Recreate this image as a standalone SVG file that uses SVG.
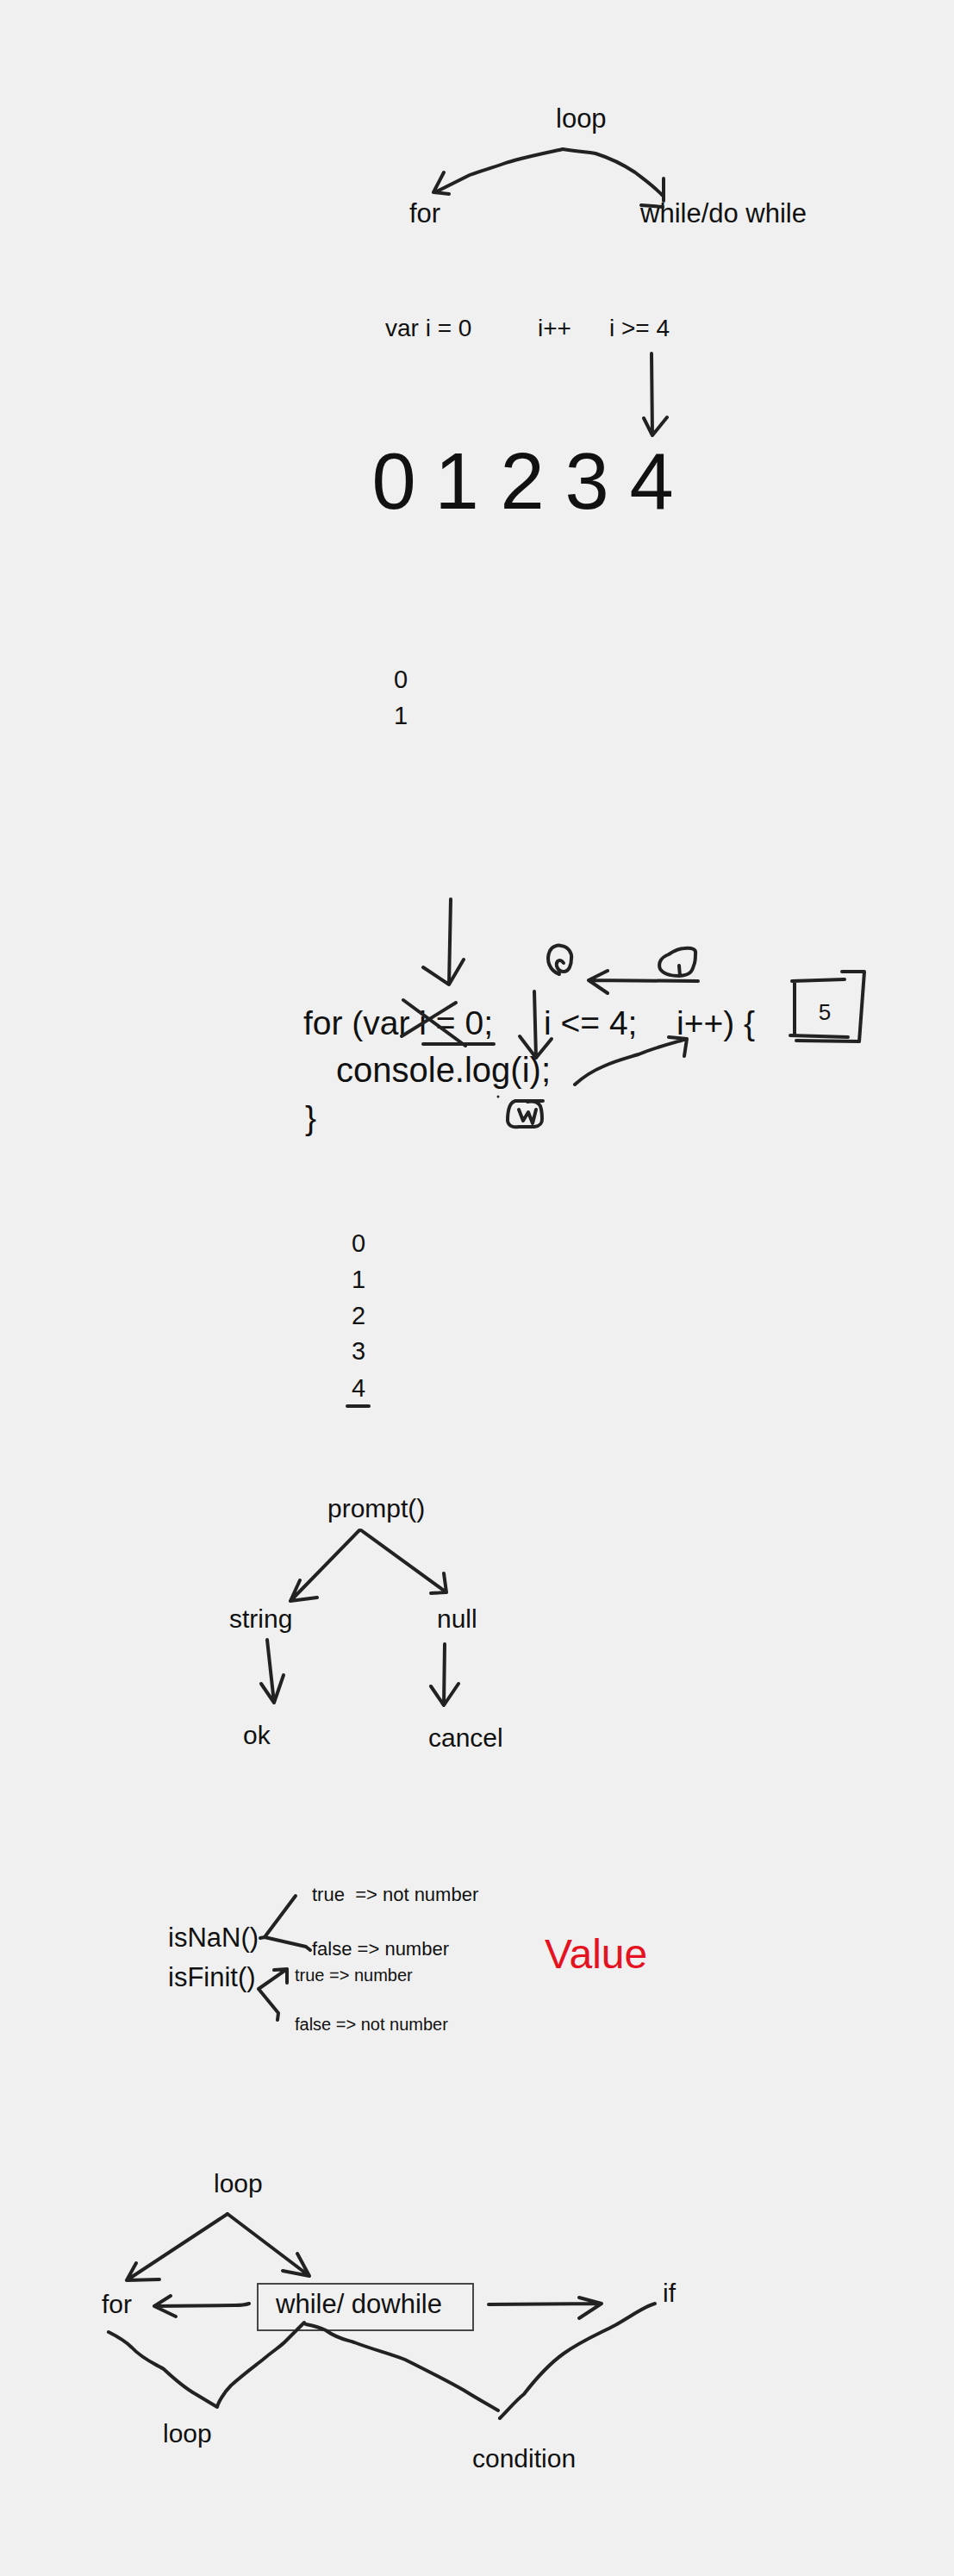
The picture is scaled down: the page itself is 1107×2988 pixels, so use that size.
<svg xmlns="http://www.w3.org/2000/svg" width="1107" height="2988" viewBox="0 0 1107 2988">
<style>
text{font-family:"Liberation Sans",Arial,sans-serif;fill:#111}
.pen{fill:none;stroke:#222;stroke-width:4;stroke-linecap:round;stroke-linejoin:round}
.thin{fill:none;stroke:#333;stroke-width:1.8}
</style>
<rect width="1107" height="2988" fill="#f0f0f0"/>

<g id="section1">
<g id="n-loop1"><text x="645" y="148" font-size="31">loop</text></g>
<g id="n-for1"><text x="475" y="258" font-size="31">for</text></g>
<g id="n-while1"><text x="743" y="258" font-size="31">while/do while</text></g>
</g>

<g id="section2">
<g id="n-vari"><text x="447" y="390" font-size="28">var i = 0</text></g>
<g id="n-ipp"><text x="624" y="390" font-size="28">i++</text></g>
<g id="n-ige"><text x="707" y="390" font-size="28">i &gt;= 4</text></g>
<g id="n-digits" font-size="92">
<text x="457" y="590" text-anchor="middle">0</text>
<text x="530" y="590" text-anchor="middle">1</text>
<text x="606" y="590" text-anchor="middle">2</text>
<text x="681" y="590" text-anchor="middle">3</text>
<text x="756" y="590" text-anchor="middle">4</text>
</g>
</g>

<g id="n-out1" font-size="29">
<text x="465" y="798" text-anchor="middle">0</text>
<text x="465" y="840" text-anchor="middle">1</text>
</g>

<g id="section-code">
<g id="n-code" font-size="39">
<text x="352" y="1200">for (var i = 0;</text>
<text x="631" y="1200">i &lt;= 4;</text>
<text x="785" y="1200">i++) {</text>
<text x="390" y="1255" font-size="40">console.log(i);</text>
<text x="354" y="1310">}</text>
</g>
<g id="n-box5">
<path class="pen" d="M922 1138 L922 1200 M919 1138 L980 1136 M977 1127 L1003 1127 L997 1208 L924 1207"/>
<path class="pen" d="M917 1201 L984 1203" stroke-width="6"/>
<text x="957" y="1183" font-size="26" text-anchor="middle">5</text>
</g>
</g>

<g id="n-out2" font-size="29">
<text x="416" y="1452" text-anchor="middle">0</text>
<text x="416" y="1494" text-anchor="middle">1</text>
<text x="416" y="1536" text-anchor="middle">2</text>
<text x="416" y="1577" text-anchor="middle">3</text>
<text x="416" y="1620" text-anchor="middle">4</text>
</g>

<g id="section-prompt" font-size="30">
<g id="n-prompt"><text x="380" y="1760">prompt()</text></g>
<g id="n-string"><text x="266" y="1888">string</text></g>
<g id="n-null"><text x="507" y="1888">null</text></g>
<g id="n-ok"><text x="282" y="2023">ok</text></g>
<g id="n-cancel"><text x="497" y="2026">cancel</text></g>
</g>

<g id="section-isnan">
<g id="n-isnan"><text x="195" y="2258" font-size="31">isNaN()</text></g>
<g id="n-isfinit"><text x="195" y="2304" font-size="31">isFinit()</text></g>
<g id="n-t1"><text x="362" y="2205" font-size="22" xml:space="preserve">true  =&gt; not number</text></g>
<g id="n-f1"><text x="362" y="2268" font-size="22">false =&gt; number</text></g>
<g id="n-t2"><text x="342" y="2298" font-size="20">true =&gt; number</text></g>
<g id="n-f2"><text x="342" y="2355" font-size="20">false =&gt; not number</text></g>
<g id="n-value"><text x="632" y="2283" font-size="48" style="fill:#e5121f">Value</text></g>
</g>

<g id="section-last" font-size="30">
<g id="n-loop2"><text x="248" y="2543">loop</text></g>
<g id="n-for2"><text x="118" y="2683">for</text></g>
<g id="n-while2"><rect class="thin" x="299" y="2649" width="250" height="54"/><text x="320" y="2683" font-size="31">while/ dowhile</text></g>
<g id="n-if"><text x="769" y="2670">if</text></g>
<g id="n-loop3"><text x="189" y="2833">loop</text></g>
<g id="n-cond"><text x="548" y="2862">condition</text></g>
</g>

<g id="connectors">
<!-- section 1 -->
<path class="pen" d="M653 173 C630 178 600 184 584 190 C570 195 555 199 545 203 L505 223 M515 200 L503 223 L521 225"/>
<path class="pen" d="M653 173 C670 176 680 176 691 178 C710 184 725 192 737 200 C750 210 760 217 769 227 M770 207 L770 233 M744 238 L769 240"/>
<!-- section 2 -->
<path class="pen" d="M756 410 L757 505 M747 485 L757 505 L774 484"/>
<!-- code annotations -->
<path class="pen" d="M523 1043 L521 1142 M491 1122 L521 1142 L538 1113"/>
<path class="pen" d="M468 1160 L540 1213 M466 1202 L529 1163" stroke-width="3"/>
<path class="pen" d="M491 1211 L573 1211" stroke-width="3.5"/>
<path class="pen" d="M620 1150 L622 1227 M603 1202 L622 1227 L640 1205"/>
<path class="pen" d="M649 1130 C638 1126 633 1114 638 1103 C641 1097 648 1096 651 1097 C660 1098 664 1106 663 1112 C663 1120 660 1127 654 1127 C647 1127 644 1119 647 1115 C649 1113 652 1114 654 1117" stroke-width="3"/>
<path class="pen" d="M810 1138 L683 1137 M705 1126 L683 1137 L705 1152"/>
<path class="pen" d="M788 1132 C778 1132 770 1130 766 1124 C763 1116 768 1110 776 1107 C782 1103 788 1100 794 1100 C803 1099 808 1101 807 1106 C807 1113 806 1118 805 1120 C803 1127 801 1131 788 1132 M788 1120 L789 1132" stroke-width="3"/>
<path class="pen" d="M667 1258 C678 1248 688 1242 700 1237 C715 1230 728 1227 741 1223 C760 1215 780 1210 797 1205 M776 1203 L797 1205 L794 1225"/>
<path class="pen" d="M598 1277 C590 1279 589 1290 589 1300 C590 1307 597 1308 602 1307 L620 1307 C627 1306 629 1303 629 1298 C629 1290 628 1286 627 1283 C624 1278 618 1277 612 1278 M598 1277 L630 1277 M602 1287 L607 1300 L613 1290 L618 1303 L622 1287" stroke-width="3"/>
<circle cx="578" cy="1272" r="1.5" fill="#222"/>
<path class="pen" d="M403 1631 L428 1631" stroke-width="3.5"/>
<!-- prompt -->
<path class="pen" d="M417 1775 L337 1857 M348 1833 L337 1857 L368 1853"/>
<path class="pen" d="M419 1775 L518 1847 M515 1825 L518 1847 L500 1848"/>
<path class="pen" d="M310 1902 L318 1975 M303 1953 L318 1975 L329 1943"/>
<path class="pen" d="M516 1907 L515 1978 M500 1956 L515 1978 L532 1953"/>
<!-- isNaN / isFinit -->
<path class="pen" d="M343 2199 L307 2247 L302 2248 M307 2247 L355 2258 L360 2262"/>
<path class="pen" d="M333 2284 L300 2307 L323 2335 L322 2343 M318 2285 L333 2284 L333 2300"/>
<!-- last section -->
<path class="pen" d="M264 2568 L147 2645 M158 2625 L147 2645 L185 2644"/>
<path class="pen" d="M264 2568 L359 2640 M345 2614 L359 2640 L328 2634"/>
<path class="pen" d="M289 2672 C283 2674 278 2674 273 2674 L179 2675 M198 2663 L179 2675 L204 2687"/>
<path class="pen" d="M567 2673 L698 2672 M672 2665 L698 2672 L672 2689"/>
<path class="pen" d="M126 2705 C140 2712 148 2718 153 2723 C165 2736 180 2742 190 2748 C205 2762 218 2772 227 2777 L252 2792 C253 2787 260 2775 268 2767 C285 2752 295 2745 305 2737 C318 2726 325 2722 330 2717 L353 2694"/>
<path class="pen" d="M355 2696 C365 2698 372 2700 378 2703 C392 2713 402 2714 411 2717 C435 2726 452 2730 470 2737 C500 2752 520 2762 539 2773 C555 2783 568 2790 578 2796"/>
<path class="pen" d="M580 2805 C590 2795 598 2785 608 2777 C625 2755 640 2740 654 2730 C675 2715 695 2707 714 2697 C735 2685 748 2675 760 2672"/>
</g>
</svg>
